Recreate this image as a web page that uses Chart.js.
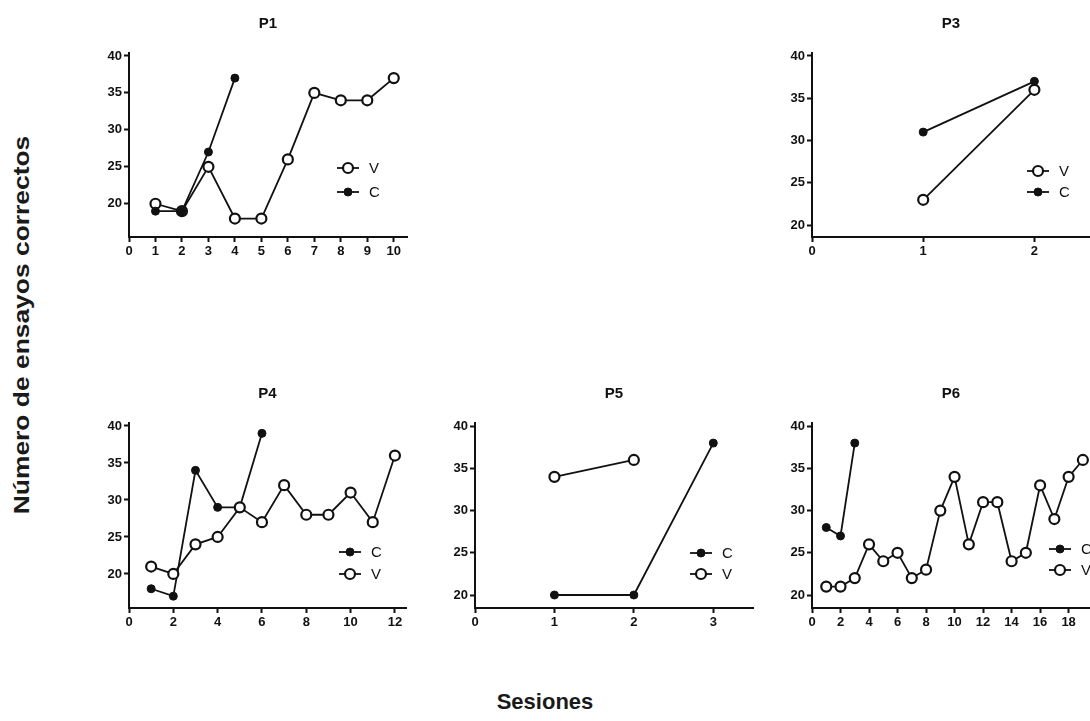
<!DOCTYPE html>
<html>
<head>
<meta charset="utf-8">
<title>Ensayos correctos por sesión</title>
<script src="https://cdn.jsdelivr.net/npm/chart.js@4.4.1/dist/chart.umd.min.js"></script>
<style>
  html, body { margin: 0; padding: 0; overflow: hidden; background: #fff; }
  body { width: 1090px; height: 721px; position: relative; font-family: "Liberation Sans", Arial, sans-serif; }
  canvas { position: absolute; }
  .axis-title { position: absolute; font-weight: bold; font-size: 22px; color: #1a1a1a; white-space: nowrap; }
  #ytitle { left: 22px; top: 325px; transform: translate(-50%, -50%) rotate(-90deg) scaleX(1.2); }
  #xtitle { left: 545px; top: 702px; transform: translate(-50%, -50%); }
</style>
</head>
<body>
<div class="axis-title" id="ytitle">Número de ensayos correctos</div>
<div class="axis-title" id="xtitle">Sesiones</div>
<canvas id="p1"></canvas>
<canvas id="p3"></canvas>
<canvas id="p4"></canvas>
<canvas id="p5"></canvas>
<canvas id="p6"></canvas>

<script>
// --- data: correct trials per session, V and C conditions ---
const yTicks = [20, 25, 30, 35, 40];

const p1Sessions = [1, 2, 3, 4, 5, 6, 7, 8, 9, 10];
const p1V = [20, 19, 25, 18, 18, 26, 35, 34, 34, 37];
const p1C = [19, 19, 27, 37];
const p1XTicks = [0, 1, 2, 3, 4, 5, 6, 7, 8, 9, 10];

const p3Sessions = [1, 2];
const p3V = [23, 36];
const p3C = [31, 37];
const p3XTicks = [0, 1, 2];

const p4Sessions = [1, 2, 3, 4, 5, 6, 7, 8, 9, 10, 11, 12];
const p4C = [18, 17, 34, 29, 29, 39];
const p4V = [21, 20, 24, 25, 29, 27, 32, 28, 28, 31, 27, 36];
const p4XTicks = [0, 2, 4, 6, 8, 10, 12];

const p5Sessions = [1, 2, 3];
const p5C = [20, 20, 38];
const p5V = [34, 36];
const p5XTicks = [0, 1, 2, 3];

const p6Sessions = [1, 2, 3, 4, 5, 6, 7, 8, 9, 10, 11, 12, 13, 14, 15, 16, 17, 18, 19];
const p6C = [28, 27, 38];
const p6V = [21, 21, 22, 26, 24, 25, 22, 23, 30, 34, 26, 31, 31, 24, 25, 33, 29, 34, 36];
const p6XTicks = [0, 2, 4, 6, 8, 10, 12, 14, 16, 18];

const ink = '#111';
const tickFont = { family: '"Liberation Sans", Arial, sans-serif', size: 13, weight: 'bold' };

// plot box = page coords of the axes (left, top, right, bottom)
const panels = [
  { id: 'p1', title: 'P1', sessions: p1Sessions, V: p1V, C: p1C, legend: ['V', 'C'],
    xTicks: p1XTicks, xMax: 10.5, yMin: 15.5, yMax: 40.4, box: [129, 53, 407, 237],
    legendX: 59, legendY: [69, 45] },
  { id: 'p3', title: 'P3', sessions: p3Sessions, V: p3V, C: p3C, legend: ['V', 'C'],
    xTicks: p3XTicks, xMax: 2.5, yMin: 18.6, yMax: 40.35, box: [812, 53, 1090, 237],
    legendX: 52, legendY: [66, 45] },
  { id: 'p4', title: 'P4', sessions: p4Sessions, V: p4V, C: p4C, legend: ['C', 'V'],
    xTicks: p4XTicks, xMax: 12.5, yMin: 15.4, yMax: 40.4, box: [129, 423, 406, 608],
    legendX: 56, legendY: [56, 34] },
  { id: 'p5', title: 'P5', sessions: p5Sessions, V: p5V, C: p5C, legend: ['C', 'V'],
    xTicks: p5XTicks, xMax: 3.5, yMin: 18.46, yMax: 40.38, box: [475, 423, 753, 608],
    legendX: 52, legendY: [55, 34] },
  { id: 'p6', title: 'P6', sessions: p6Sessions, V: p6V, C: p6C, legend: ['C', 'V'],
    xTicks: p6XTicks, xMax: 19.5, yMin: 18.46, yMax: 40.38, box: [812, 423, 1090, 608],
    legendX: 30, legendY: [59, 38] }
];

const Y_AXIS_W = 45, X_AXIS_H = 28, PAD_TOP = 40, PAD_RIGHT = 14, PAD_BOTTOM = 4;

const seriesStyle = {
  V: { pointRadius: 5, pointBorderWidth: 2.2, pointBackgroundColor: '#fff', pointBorderColor: ink },
  C: { pointRadius: 4, pointBorderWidth: 1, pointBackgroundColor: ink, pointBorderColor: ink }
};

// title above each panel plus the small inset legend
const panelDecor = {
  id: 'panelDecor',
  afterDraw(chart, args, opts) {
    const { ctx, chartArea: a } = chart;
    ctx.save();
    ctx.fillStyle = ink;
    ctx.font = 'bold 15px "Liberation Sans", Arial, sans-serif';
    ctx.textAlign = 'center';
    ctx.textBaseline = 'middle';
    ctx.fillText(opts.title, (a.left + a.right) / 2, a.top - 29);

    ctx.font = '15px "Liberation Sans", Arial, sans-serif';
    ctx.textAlign = 'left';
    opts.order.forEach((name, i) => {
      const ds = chart.data.datasets.find(d => d.label === name);
      const mx = a.right - opts.legendX;
      const my = a.bottom - opts.legendY[i];
      ctx.strokeStyle = ink;
      ctx.lineWidth = ds.borderWidth;
      ctx.beginPath();
      ctx.moveTo(mx - 11, my);
      ctx.lineTo(mx + 11, my);
      ctx.stroke();
      ctx.beginPath();
      ctx.arc(mx, my, ds.pointRadius, 0, Math.PI * 2);
      ctx.fillStyle = ds.pointBackgroundColor;
      ctx.fill();
      ctx.lineWidth = ds.pointBorderWidth;
      ctx.strokeStyle = ds.pointBorderColor;
      ctx.stroke();
      ctx.fillStyle = ink;
      ctx.fillText(name, mx + 21, my + 1);
    });
    ctx.restore();
  }
};

panels.forEach(p => {
  const [left, top, right, bottom] = p.box;
  const canvas = document.getElementById(p.id);
  const w = Y_AXIS_W + (right - left) + PAD_RIGHT;
  const h = PAD_TOP + (bottom - top) + X_AXIS_H + PAD_BOTTOM;
  canvas.width = w;
  canvas.height = h;
  canvas.style.left = (left - Y_AXIS_W) + 'px';
  canvas.style.top = (top - PAD_TOP) + 'px';

  // later legend entry is drawn on top, so it goes first in the list
  const datasets = [p.legend[1], p.legend[0]].map(name => ({
    label: name,
    data: p[name].map((v, i) => ({ x: p.sessions[i], y: v })),
    showLine: true,
    borderColor: ink,
    borderWidth: 1.8,
    clip: false,
    ...seriesStyle[name]
  }));

  new Chart(canvas, {
    type: 'scatter',
    data: { datasets },
    options: {
      responsive: false,
      animation: false,
      devicePixelRatio: 1,
      layout: { padding: { top: PAD_TOP, right: PAD_RIGHT, bottom: PAD_BOTTOM, left: 0 } },
      plugins: {
        legend: { display: false },
        tooltip: { enabled: false },
        panelDecor: { title: p.title, order: p.legend, legendX: p.legendX, legendY: p.legendY }
      },
      scales: {
        x: {
          type: 'linear',
          min: 0,
          max: p.xMax,
          border: { display: true, color: ink, width: 2 },
          grid: { display: true, drawOnChartArea: false, tickLength: 5, tickWidth: 2, tickColor: ink },
          ticks: { font: tickFont, color: ink, padding: 2, maxRotation: 0, autoSkip: false },
          afterBuildTicks: s => { s.ticks = p.xTicks.map(v => ({ value: v })); },
          afterFit: s => { s.height = X_AXIS_H; s.paddingLeft = 0; s.paddingRight = 0; }
        },
        y: {
          type: 'linear',
          min: p.yMin,
          max: p.yMax,
          border: { display: true, color: ink, width: 2 },
          grid: { display: true, drawOnChartArea: false, tickLength: 5, tickWidth: 2, tickColor: ink },
          ticks: { font: tickFont, color: ink, padding: 2 },
          afterBuildTicks: s => { s.ticks = yTicks.map(v => ({ value: v })); },
          afterFit: s => { s.width = Y_AXIS_W; s.paddingTop = 0; s.paddingBottom = 0; }
        }
      }
    },
    plugins: [panelDecor]
  });
});
</script>
</body>
</html>
